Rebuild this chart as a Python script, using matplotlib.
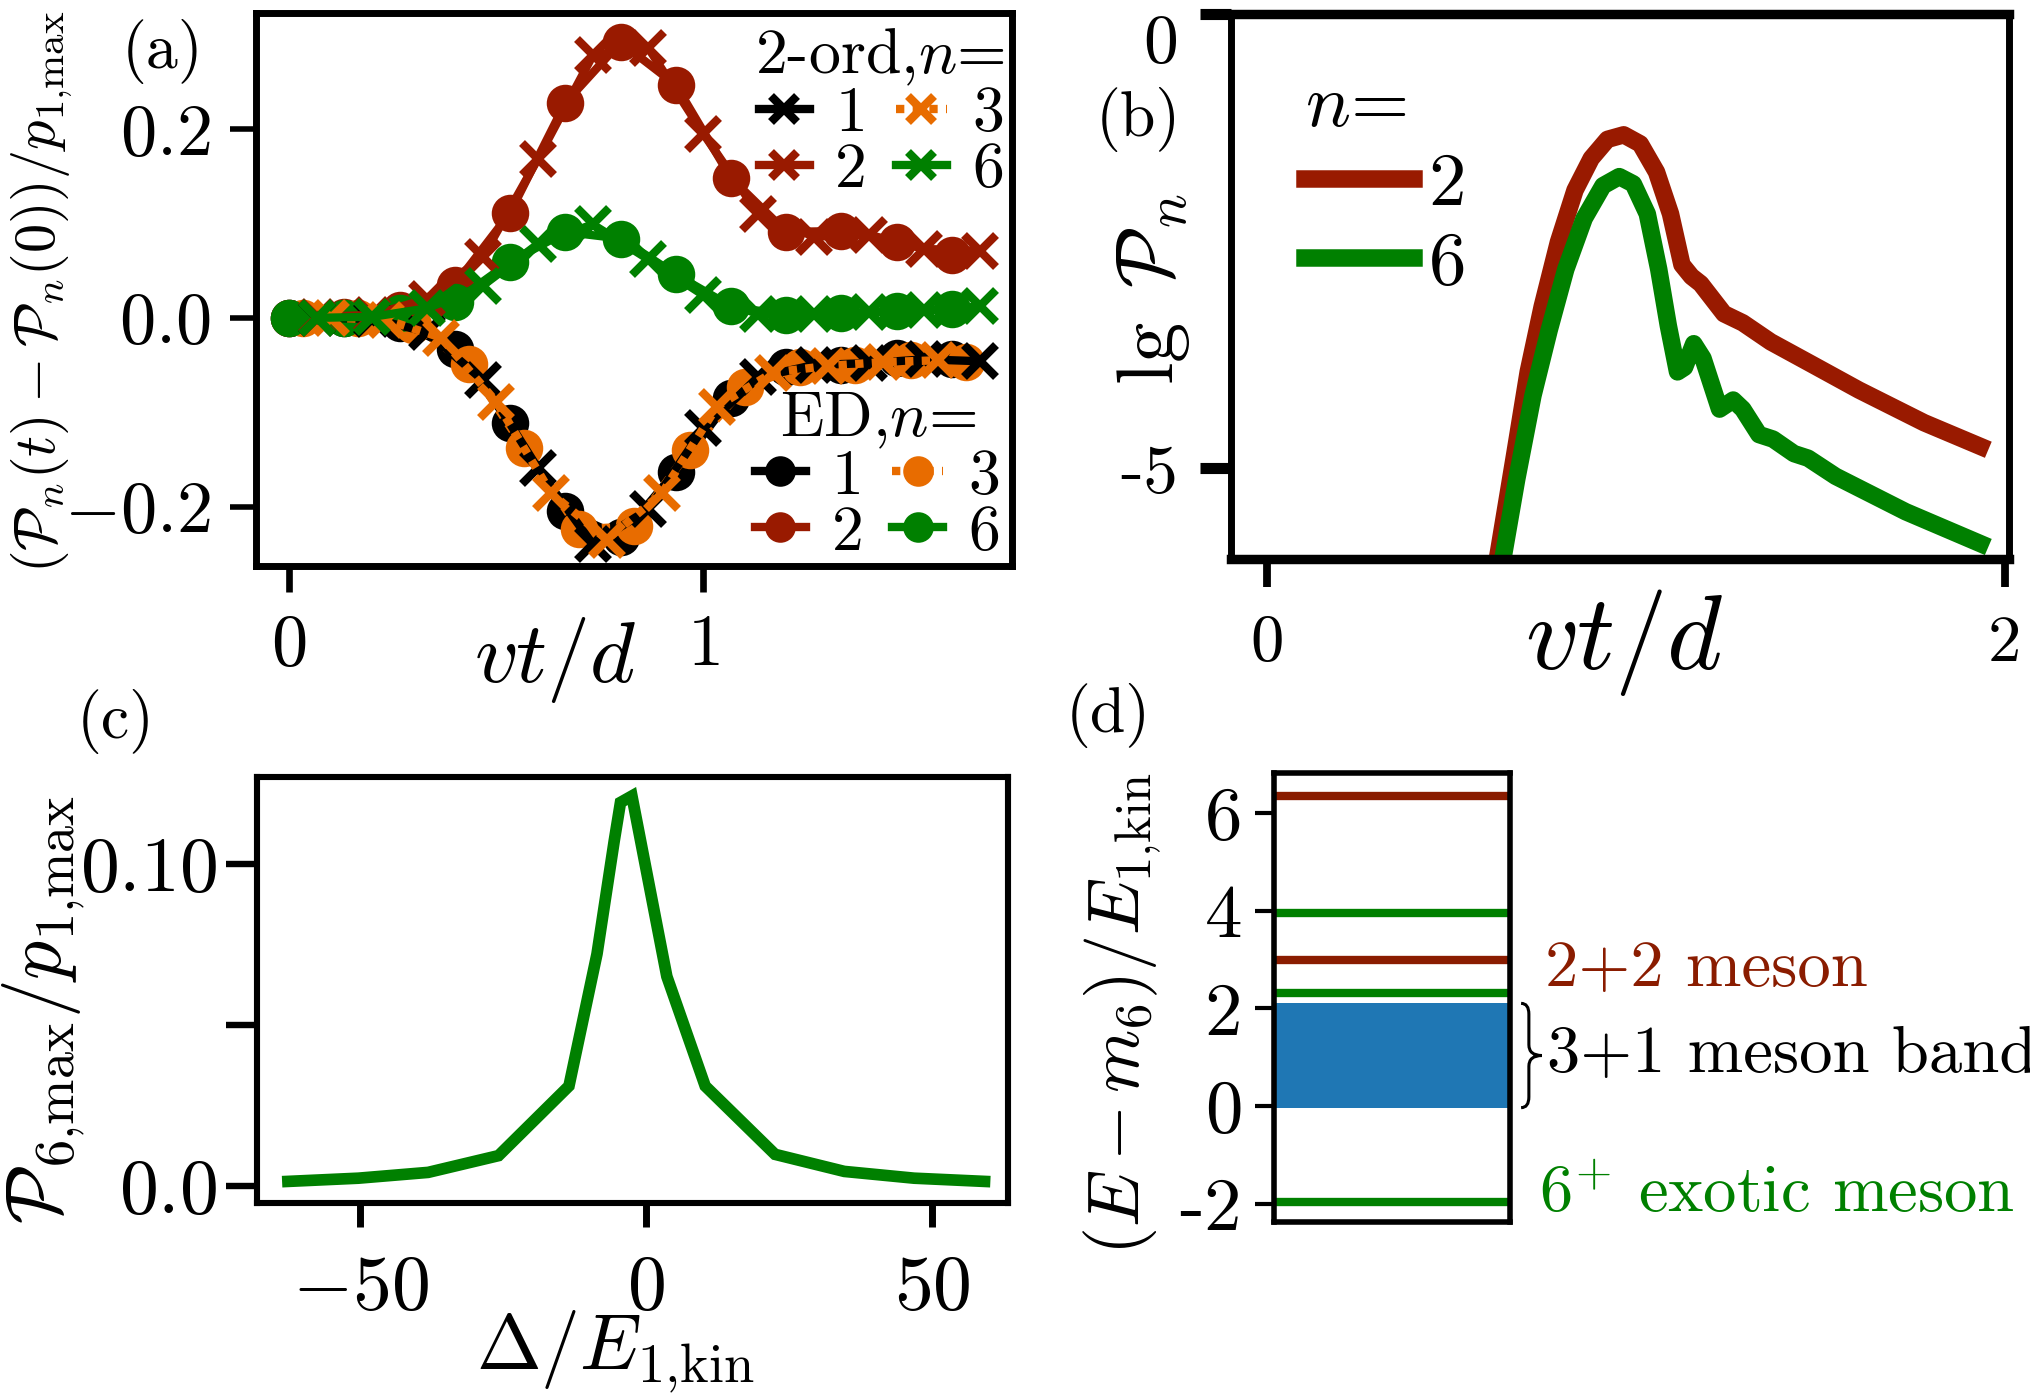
import matplotlib
matplotlib.use('Agg')
import matplotlib.pyplot as plt
import matplotlib.patches as mpatches
import matplotlib.transforms as mtransforms
from matplotlib.path import Path

plt.rcParams['font.family'] = ['cmr10', 'DejaVu Serif']
plt.rcParams['mathtext.fontset'] = 'cm'
plt.rcParams['axes.unicode_minus'] = False
plt.rcParams['axes.formatter.use_mathtext'] = True

RED = '#991a00'
DRED = '#8a1c00'
GREEN = '#008000'
ORANGE = '#e86c00'
BLUE = '#1f77b4'

# ---- (a) population change, ED and 2nd order, sampled times
t_ed = [0.0, 0.133, 0.267, 0.4, 0.533, 0.667, 0.8, 0.933, 1.067, 1.2, 1.333, 1.467, 1.6]
t_ed3 = [0.033, 0.167, 0.3, 0.433, 0.567, 0.7, 0.833, 0.967, 1.1, 1.233, 1.367, 1.5, 1.633]
t_2o = [0.067, 0.2, 0.333, 0.467, 0.6, 0.733, 0.867, 1.0, 1.133, 1.267, 1.4, 1.533, 1.667]
t_2o3 = [0.1, 0.233, 0.367, 0.5, 0.633, 0.767, 0.9, 1.033, 1.167, 1.3, 1.433, 1.567]

ed_n1 = [0, 0, -0.005, -0.033, -0.111, -0.205, -0.232, -0.163, -0.085, -0.052, -0.050, -0.043, -0.044]
ed_n2 = [0, 0.001, 0.008, 0.035, 0.111, 0.228, 0.292, 0.247, 0.148, 0.091, 0.092, 0.080, 0.067]
ed_n3 = [0, 0, -0.008, -0.049, -0.138, -0.224, -0.221, -0.140, -0.073, -0.052, -0.050, -0.045, -0.047]
ed_n6 = [0, 0, 0.005, 0.017, 0.059, 0.091, 0.084, 0.046, 0.012, 0.003, 0.005, 0.007, 0.009]

o2_n1 = [0, -0.001, -0.015, -0.066, -0.159, -0.240, -0.203, -0.117, -0.063, -0.050, -0.048, -0.044, -0.046]
o2_n2 = [0.001, 0.003, 0.020, 0.064, 0.168, 0.278, 0.286, 0.195, 0.110, 0.086, 0.088, 0.073, 0.071]
o2_n3 = [0, -0.002, -0.021, -0.089, -0.186, -0.235, -0.186, -0.094, -0.058, -0.051, -0.047, -0.045]
o2_n6 = [0, 0.001, 0.010, 0.034, 0.078, 0.099, 0.062, 0.024, 0.004, 0.004, 0.006, 0.008, 0.012]

# ---- (b) lg P_n
tb_n2 = [0.626, 0.671, 0.708, 0.746, 0.790, 0.835, 0.879, 0.923, 0.967, 1.012, 1.056, 1.094,
         1.125, 1.151, 1.176, 1.239, 1.290, 1.366, 1.479, 1.605, 1.782, 1.934]
lg_n2 = [-5.96, -4.86, -3.94, -3.22, -2.51, -1.94, -1.59, -1.38, -1.33, -1.43, -1.74, -2.20,
         -2.76, -2.89, -2.97, -3.30, -3.40, -3.61, -3.86, -4.14, -4.50, -4.76]
tb_n6 = [0.641, 0.677, 0.721, 0.765, 0.810, 0.860, 0.911, 0.955, 0.993, 1.031, 1.062, 1.088,
         1.113, 1.132, 1.157, 1.182, 1.227, 1.264, 1.290, 1.334, 1.372, 1.429, 1.467, 1.542,
         1.732, 1.934]
lg_n6 = [-5.96, -5.12, -4.20, -3.48, -2.81, -2.25, -1.89, -1.79, -1.87, -2.20, -2.81, -3.43,
         -3.94, -3.89, -3.63, -3.79, -4.35, -4.25, -4.35, -4.63, -4.68, -4.84, -4.89, -5.09,
         -5.48, -5.83]

# ---- (c) P_6,max vs detuning
delta = [-62.6, -50.3, -38.1, -25.8, -13.5, -8.6, -5.6, -4.5, -2.5, -1.3, 3.6, 10.3,
         22.5, 34.6, 46.8, 59.1]
p6max = [0.0014, 0.0024, 0.0042, 0.0094, 0.031, 0.072, 0.107, 0.119, 0.121, 0.110, 0.065,
         0.031, 0.0098, 0.0045, 0.0024, 0.0014]

# ---- (d) spectrum
levels_22 = [6.35, 3.0]
levels_6 = [3.95, 2.31, -1.97]
band_31 = (-0.03, 2.105)

W, H = 2031, 1394
fig = plt.figure(figsize=(W / 200, H / 200), dpi=200)


def box(l, r, t, b):
    return [l / W, 1 - b / H, (r - l) / W, (b - t) / H]


def spines(ax, lw_h, lw_v=None):
    lw_v = lw_h if lw_v is None else lw_v
    for s in ('top', 'bottom'):
        ax.spines[s].set_linewidth(lw_h)
    for s in ('left', 'right'):
        ax.spines[s].set_linewidth(lw_v)


def panel_label(txt, x, y, size=23):
    fig.text(x / W, 1 - y / H, txt, ha='center', va='center', fontsize=size)


# ================= (a)
ax = fig.add_axes(box(256, 1012, 13, 566))
lw, ms_o, ms_x, mew = 3.0, 12.5, 11.5, 3.0
dot = (0, (1, 1))
e1, = ax.plot(t_ed, ed_n1, '-', color='black', lw=lw, marker='o', ms=ms_o)
e2, = ax.plot(t_ed, ed_n2, '-', color=RED, lw=lw, marker='o', ms=ms_o)
e3, = ax.plot(t_ed3, ed_n3, linestyle=dot, color=ORANGE, lw=lw, marker='o', ms=ms_o)
e6, = ax.plot(t_ed, ed_n6, '-', color=GREEN, lw=lw, marker='o', ms=ms_o)
s1, = ax.plot(t_2o, o2_n1, '-', color='black', lw=lw, marker='x', ms=ms_x, mew=mew)
s2, = ax.plot(t_2o, o2_n2, '-', color=RED, lw=lw, marker='x', ms=ms_x, mew=mew)
s3, = ax.plot(t_2o3, o2_n3, linestyle=dot, color=ORANGE, lw=lw, marker='x', ms=ms_x, mew=mew)
s6, = ax.plot(t_2o, o2_n6, '-', color=GREEN, lw=lw, marker='x', ms=ms_x, mew=mew)

ax.set_xlim(-0.08, 1.745)
ax.set_ylim(-0.263, 0.323)
ax.set_xticks([0, 1], ['$0$', '$1$'])
ax.set_yticks([-0.2, 0.0, 0.2], ['$-0.2$', '$0.0$', '$0.2$'])
ax.tick_params(axis='x', length=9.4, width=2.4, pad=8, labelsize=26)
ax.tick_params(axis='y', length=9.4, width=2.0, pad=7, labelsize=26)
spines(ax, 2.5)

leg_kw = dict(ncol=2, frameon=False, fontsize=23, title_fontsize=23, handlelength=0.8,
              handletextpad=0.4, columnspacing=0.45, labelspacing=-0.03, borderpad=0,
              borderaxespad=0, numpoints=1, markerscale=0.8)
leg1 = ax.legend([s1, s2, s3, s6], ['1', '2', '3', '6'], title=r'2-ord,$n$=',
                 loc='upper right', bbox_to_anchor=(0.99, 0.975), alignment='right', **leg_kw)
ax.add_artist(leg1)
ax.legend([e1, e2, e3, e6], ['1', '2', '3', '6'], title=r'ED,$n$=',
          loc='lower right', bbox_to_anchor=(0.985, 0.006), **leg_kw)

ax.set_xlabel(r'$vt/d$', fontsize=31)
ax.xaxis.set_label_coords(0.3955, -0.170)
ax.xaxis.label.set_va('center')
ax.set_ylabel(r'$(\mathcal{P}_n(t)-\mathcal{P}_n(0))/p_{1{,}\mathrm{max}}$', fontsize=21)
ax.yaxis.set_label_coords(-0.283, 0.4955)
ax.yaxis.label.set_va('center')
panel_label('(a)', 163, 51)

# ================= (b)
ax = fig.add_axes(box(1231, 2009, 14, 559))
ax.plot(tb_n2, lg_n2, color=RED, lw=6.3, label='2')
ax.plot(tb_n6, lg_n6, color=GREEN, lw=6.3, label='6')
ax.set_xlim(-0.098, 2.012)
ax.set_ylim(-6.0, 0.0)
ax.set_xticks([0, 2], ['0', '2'])
ax.set_yticks([-5, 0], ['-5', '0'])
ax.get_yticklabels()[1].set_va('top')
ax.tick_params(axis='x', length=10, width=2.8, pad=10, labelsize=24)
ax.tick_params(axis='y', length=11, width=4.0, pad=8, labelsize=25)
spines(ax, 3.4, 2.5)
ax.legend(title=r'$n$=', loc='upper left', bbox_to_anchor=(0.095, 0.89), frameon=False,
          fontsize=27, title_fontsize=27, handlelength=1.45, handletextpad=0.2,
          labelspacing=0.15, borderpad=0, borderaxespad=0, alignment='left')
ax.set_xlabel(r'$vt/d$', fontsize=38)
ax.xaxis.set_label_coords(0.506, -0.154)
ax.xaxis.label.set_va('center')
ax.set_ylabel(r'$\lg\ \mathcal{P}_n$', fontsize=29)
ax.yaxis.set_label_coords(-0.100, 0.495)
ax.yaxis.label.set_va('center')
panel_label('(b)', 1138, 119)

# ================= (c)
ax = fig.add_axes(box(257, 1008, 777, 1203))
ax.plot(delta, p6max, color=GREEN, lw=4.2, solid_joinstyle='miter')
ax.set_xlim(-68, 63.2)
ax.set_ylim(-0.0053, 0.1269)
ax.set_xticks([-50, 0, 50], ['$-50$', '$0$', '$50$'])
ax.set_yticks([0.0, 0.05, 0.10], ['$0.0$', '', '$0.10$'])
ax.tick_params(axis='x', length=8.6, width=2.5, pad=10, labelsize=28)
ax.tick_params(axis='y', length=11, width=2.3, pad=3.5, labelsize=28)
spines(ax, 2.2)
ax.set_xlabel(r'$\Delta/E_{1{,}\mathrm{kin}}$', fontsize=28)
ax.xaxis.set_label_coords(0.477, -0.350)
ax.xaxis.label.set_va('center')
ax.set_ylabel(r'$\mathcal{P}_{6{,}\mathrm{max}}/p_{1{,}\mathrm{max}}$', fontsize=28)
ax.yaxis.set_label_coords(-0.284, 0.454)
ax.yaxis.label.set_va('center')
panel_label('(c)', 116, 722)

# ================= (d)
ax = fig.add_axes(box(1274, 1510, 773, 1222))
ax.axhspan(band_31[0], band_31[1], color=BLUE, lw=0)
for y in levels_22:
    ax.axhline(y, color=DRED, lw=3.0)
for y in levels_6:
    ax.axhline(y, color=GREEN, lw=3.0)
ax.set_xlim(0, 1)
ax.set_ylim(-2.37, 6.82)
ax.set_xticks([])
ax.set_yticks([-2, 0, 2, 4, 6], ['-2', '0', '2', '4', '6'])
ax.tick_params(axis='y', length=7, width=1.5, pad=4.5, labelsize=27)
spines(ax, 2.0)
ax.set_ylabel(r'$(E-m_6)/E_{1{,}\mathrm{kin}}$', fontsize=26)
ax.yaxis.set_label_coords(-0.644, 0.463)
ax.yaxis.label.set_va('center')

tr = mtransforms.blended_transform_factory(ax.transAxes, ax.transData)
ax.text(1.15, 2.80, '2+2 meson', color=DRED, fontsize=24, ha='left', va='center',
        transform=tr, clip_on=False)
ax.text(1.155, 1.05, '3+1 meson band', color='black', fontsize=24, ha='left', va='center',
        transform=tr, clip_on=False)
ax.text(1.123, -1.83, r'$6^{+}$ exotic meson', color=GREEN, fontsize=24, ha='left',
        va='center', transform=tr, clip_on=False)

# curly brace next to the band
y0, y1 = band_31
ym = 0.5 * (y0 + y1)
x0, xv, xt, h = 1.047, 1.08, 1.135, 0.22
verts = [(x0, y1), (xv, y1), (xv, y1 - h), (xv, ym + h), (xv, ym), (xt, ym),
         (xv, ym), (xv, ym - h), (xv, y0 + h), (xv, y0), (x0, y0)]
codes = [Path.MOVETO, Path.CURVE3, Path.CURVE3, Path.LINETO, Path.CURVE3, Path.CURVE3,
         Path.CURVE3, Path.CURVE3, Path.LINETO, Path.CURVE3, Path.CURVE3]
ax.add_patch(mpatches.PathPatch(Path(verts, codes), fill=False, lw=1.1, color='black',
                                transform=tr, clip_on=False))
panel_label('(d)', 1108, 715)

fig.savefig('out.png', dpi=200)
